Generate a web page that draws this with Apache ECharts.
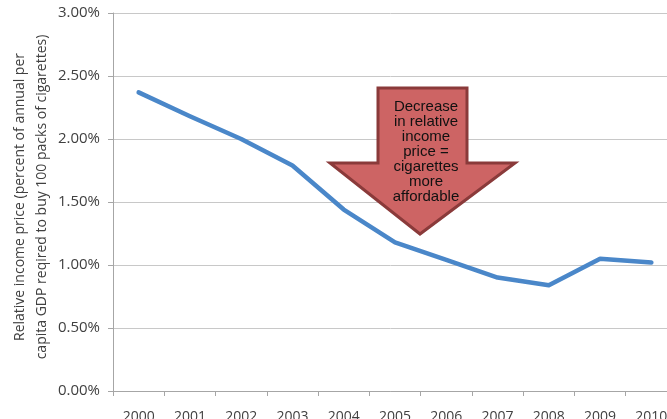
<!DOCTYPE html>
<html>
<head>
<meta charset="utf-8">
<script src="https://cdn.jsdelivr.net/npm/echarts@6/dist/echarts.min.js"></script>
<style>
  html, body { margin: 0; padding: 0; background: #fff; }
  #chart { width: 667px; height: 419px; }
</style>
</head>
<body>
<div id="chart"></div>
<script>
// years and relative income price (% of per capita GDP for 100 packs)
const years = ['2000', '2001', '2002', '2003', '2004', '2005', '2006', '2007', '2008', '2009', '2010'];
const relPrice = [2.37, 2.18, 2.00, 1.79, 1.44, 1.18, 1.04, 0.90, 0.84, 1.05, 1.02];
const yTitle = 'Relative income price (percent of annual per\ncapita GDP reqired to buy 100 packs of cigarettes)';
const arrowText = 'Decrease\nin relative\nincome\nprice =\ncigarettes\nmore\naffordable';

const chart = echarts.init(document.getElementById('chart'));

const options = {
    animation: false,
    grid: { left: 113, top: 13, width: 564, height: 378, containLabel: false, outerBoundsMode: 'none' },
    xAxis: {
        type: 'category',
        data: years,
        boundaryGap: true,
        axisLine: { lineStyle: { color: '#a6a6a6', width: 1 } },
        axisTick: { show: true, length: 5, lineStyle: { color: '#a6a6a6' } },
        axisLabel: { color: '#404040', fontSize: 14, fontFamily: 'Open Sans', margin: 19, interval: 0 },
        splitLine: { show: false }
    },
    yAxis: {
        type: 'value',
        min: 0,
        max: 3,
        interval: 0.5,
        axisLine: { show: true, lineStyle: { color: '#a6a6a6', width: 1 } },
        axisTick: { show: true, length: 5, lineStyle: { color: '#a6a6a6' } },
        axisLabel: {
            color: '#404040', fontSize: 15, fontFamily: 'Open Sans', margin: 13,
            formatter: v => v.toFixed(2) + '%'
        },
        splitLine: { lineStyle: { color: '#c8c8c8', width: 1 } }
    },
    series: [
        {
            type: 'line',
            data: relPrice,
            symbol: 'none',
            lineStyle: { color: '#4a87c9', width: 4.5, cap: 'round', join: 'round' }
        }
    ],
    graphic: [
        {
            type: 'text',
            x: 31,
            y: 197,
            rotation: Math.PI / 2,
            style: {
                text: yTitle,
                fill: '#404040',
                font: '14px "Open Sans"',
                lineHeight: 22,
                align: 'center',
                verticalAlign: 'middle'
            }
        },
        {
            type: 'polygon',
            shape: {
                points: [[378, 88], [467, 88], [467, 163], [515, 163], [420, 234], [330, 163], [378, 163]]
            },
            style: { fill: '#cd6464', stroke: '#8a3a3a', lineWidth: 3 },
            z: 10
        },
        {
            type: 'text',
            x: 426,
            y: 152,
            style: {
                text: arrowText,
                fill: '#111',
                font: '15px "Liberation Sans"',
                lineHeight: 15,
                align: 'center',
                verticalAlign: 'middle'
            },
            z: 11
        }
    ]
};

chart.setOption(options);
</script>
</body>
</html>
